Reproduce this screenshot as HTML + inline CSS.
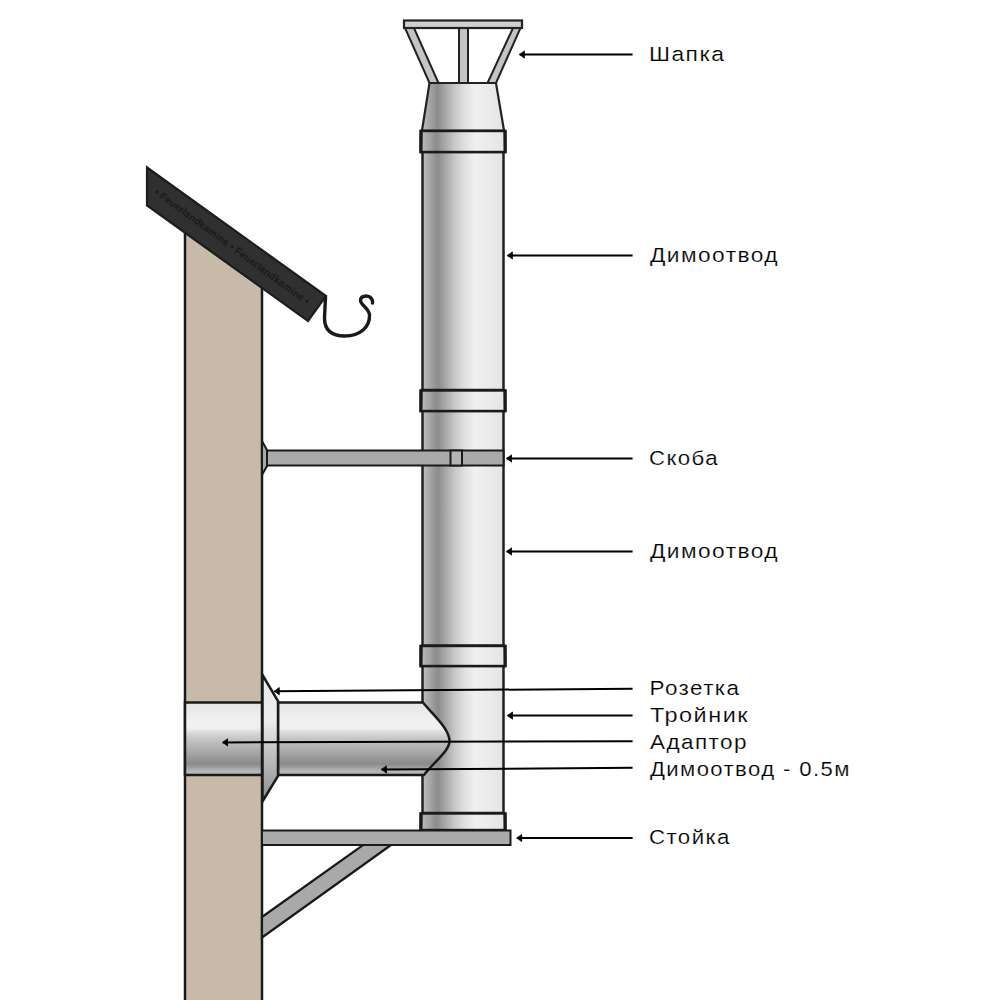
<!DOCTYPE html>
<html><head><meta charset="utf-8">
<style>
html,body{margin:0;padding:0;background:#fff;width:1000px;height:1000px;overflow:hidden}
svg{display:block}
.lbl{font-family:"Liberation Sans",sans-serif;font-size:20.5px;fill:#000;letter-spacing:1.3px;stroke:#fff;stroke-width:0.18px}
</style></head><body>
<svg width="1000" height="1000" viewBox="0 0 1000 1000">
<defs>
<linearGradient id="gh" x1="0" y1="0" x2="1" y2="0">
<stop offset="0" stop-color="#c0c0c0"/>
<stop offset="0.07" stop-color="#ababab"/>
<stop offset="0.19" stop-color="#8c8c8c"/>
<stop offset="0.28" stop-color="#a6a6a6"/>
<stop offset="0.40" stop-color="#c8c8c8"/>
<stop offset="0.52" stop-color="#e0e0e0"/>
<stop offset="0.65" stop-color="#f0f0f0"/>
<stop offset="1" stop-color="#e4e4e4"/>
</linearGradient>
<linearGradient id="gv" x1="0" y1="0" x2="0" y2="1">
<stop offset="0" stop-color="#e4e4e4"/>
<stop offset="0.2" stop-color="#efefef"/>
<stop offset="0.35" stop-color="#f0f0f0"/>
<stop offset="0.42" stop-color="#d8d8d8"/>
<stop offset="0.5" stop-color="#c6c6c6"/>
<stop offset="0.68" stop-color="#a8a8a8"/>
<stop offset="0.85" stop-color="#8a8a8a"/>
<stop offset="0.95" stop-color="#b8b8b8"/>
<stop offset="1" stop-color="#b0b0b0"/>
</linearGradient>
<linearGradient id="gr" x1="0" y1="0" x2="0" y2="1">
<stop offset="0" stop-color="#e8e8e8"/>
<stop offset="0.35" stop-color="#eeeeee"/>
<stop offset="0.6" stop-color="#c4c4c4"/>
<stop offset="1" stop-color="#8c8c8c"/>
</linearGradient>
<marker id="ah" viewBox="-1 -1 7.5 10" refX="0.3" refY="4" markerWidth="7.5" markerHeight="10" markerUnits="userSpaceOnUse" orient="auto">
<path d="M5.2,0.4 L0.3,4 L5.2,7.6 Z" fill="#000" stroke="#000" stroke-width="0.8" stroke-linejoin="round"/>
</marker>
</defs>

<!-- wall -->
<polygon points="185,225 262,280 262,1010 185,1010" fill="#c7baa9" stroke="#1a1a1a" stroke-width="2.5"/>

<!-- roof -->
<polygon points="147,167.5 326,296 308,321 147,205.5" fill="#303030" stroke="#1c1c1c" stroke-width="2.2" stroke-linejoin="miter"/>
<text transform="translate(153.7,193.4) rotate(36.2)" font-family="Liberation Sans,sans-serif" font-size="9.9" font-weight="bold" fill="#1a1a1a" letter-spacing="0.15">• Feuerlandkamine • Feuerlandkamine •</text>
<!-- hook -->
<path d="M325.5,297 L324.5,318 C324.5,331 333,336 345,336 C360,336 370,327 369.5,315 C369,308 360.5,305 360.5,300.5 C360.5,297 363.5,296 366.5,296 C370,296 373,299 372.5,303" fill="none" stroke="#1a1a1a" stroke-width="3.4" stroke-linecap="round"/>

<!-- skoba -->
<polygon points="262,441 267,450 267,466 262,475" fill="#a9a9a9" stroke="#1a1a1a" stroke-width="2"/>

<!-- cap -->
<polygon points="405,28 414,28 438.5,83 429.5,83" fill="#c4c4c4" stroke="#222" stroke-width="2"/>
<polygon points="513,28 520.5,28 496,83 487.5,83" fill="#c4c4c4" stroke="#222" stroke-width="2"/>
<rect x="459" y="28" width="9" height="55" fill="#c4c4c4" stroke="#222" stroke-width="2"/>
<rect x="404" y="20.5" width="118" height="7.5" fill="#cfcfcf" stroke="#222" stroke-width="2.2"/>
<polygon points="429.5,83 496,83 504,130.5 422,130.5" fill="url(#gh)" stroke="#222" stroke-width="2.2"/>

<!-- pipes -->
<rect x="422.5" y="152" width="81" height="238" fill="url(#gh)" stroke="#222" stroke-width="2.5"/>
<rect x="422.5" y="411" width="81" height="234.5" fill="url(#gh)" stroke="#222" stroke-width="2.5"/>
<rect x="422.5" y="666" width="81" height="147" fill="url(#gh)" stroke="#222" stroke-width="2.5"/>

<!-- bands -->
<rect x="420.5" y="131.0" width="85" height="21.0" fill="url(#gh)" stroke="#1a1a1a" stroke-width="2.4"/><line x1="421.3" y1="131.0" x2="421" y2="152.0" stroke="#1a1a1a" stroke-width="3" stroke-linecap="round"/><line x1="504.8" y1="131.0" x2="505" y2="152.0" stroke="#1a1a1a" stroke-width="3" stroke-linecap="round"/>
<rect x="420.5" y="390.5" width="85" height="20.5" fill="url(#gh)" stroke="#1a1a1a" stroke-width="2.4"/><line x1="421.3" y1="390.5" x2="421" y2="411.0" stroke="#1a1a1a" stroke-width="3" stroke-linecap="round"/><line x1="504.8" y1="390.5" x2="505" y2="411.0" stroke="#1a1a1a" stroke-width="3" stroke-linecap="round"/>
<rect x="420.5" y="646.0" width="85" height="20.0" fill="url(#gh)" stroke="#1a1a1a" stroke-width="2.4"/><line x1="421.3" y1="646.0" x2="421" y2="666.0" stroke="#1a1a1a" stroke-width="3" stroke-linecap="round"/><line x1="504.8" y1="646.0" x2="505" y2="666.0" stroke="#1a1a1a" stroke-width="3" stroke-linecap="round"/>
<rect x="420.5" y="813.5" width="85" height="16.5" fill="url(#gh)" stroke="#1a1a1a" stroke-width="2.4"/><line x1="421.3" y1="813.5" x2="421" y2="830.0" stroke="#1a1a1a" stroke-width="3" stroke-linecap="round"/><line x1="504.8" y1="813.5" x2="505" y2="830.0" stroke="#1a1a1a" stroke-width="3" stroke-linecap="round"/>

<!-- skoba on pipe -->
<rect x="267" y="450.5" width="236.5" height="15" fill="#aaaaaa" stroke="#1a1a1a" stroke-width="2"/>
<rect x="450.5" y="450.5" width="11.5" height="15" fill="#b5b5b5" stroke="#1a1a1a" stroke-width="2"/>

<!-- branch -->
<rect x="185" y="702.5" width="77" height="72.5" fill="url(#gv)" stroke="#1a1a1a" stroke-width="2.5"/>
<path d="M278,702.5 L423,702.5 C434,716 449.5,729 449.5,741 C449.5,751 434,762 424,775 L278,775 Z" fill="url(#gv)" stroke="#1a1a1a" stroke-width="2.5"/>
<polygon points="262.5,675 278,701 278,776 262.5,801.5" fill="url(#gr)" stroke="#1a1a1a" stroke-width="2.5"/>

<!-- stand -->
<polygon points="262,917 363,845 391,845 262,937.5" fill="#a9a9a9" stroke="#1a1a1a" stroke-width="2.2"/>
<rect x="262" y="830.5" width="248.5" height="14.5" fill="#ababab" stroke="#1a1a1a" stroke-width="2"/>

<!-- arrows -->
<g stroke="#000" stroke-width="2" marker-start="url(#ah)">
<line x1="519.5" y1="54.5" x2="632.6" y2="54.5"/>
<line x1="507.5" y1="255.5" x2="632.6" y2="255.5"/>
<line x1="506.6" y1="458.5" x2="632.6" y2="458.5"/>
<line x1="506.6" y1="551.5" x2="632.6" y2="551.5"/>
<line x1="274.4" y1="691.2" x2="632.6" y2="688.8"/>
<line x1="507.6" y1="715.6" x2="632.6" y2="715.6"/>
<line x1="222.7" y1="742.4" x2="632.6" y2="741.2"/>
<line x1="381.5" y1="769.5" x2="632.6" y2="767.8"/>
<line x1="516.8" y1="838" x2="632.6" y2="838"/>
</g>

<!-- labels -->
<text class="lbl" transform="translate(649.0,61) scale(1.1156,1)">Шапка</text>
<text class="lbl" transform="translate(650.0,262) scale(1.1088,1)">Димоотвод</text>
<text class="lbl" transform="translate(649.0,465) scale(1.0843,1)">Скоба</text>
<text class="lbl" transform="translate(650.0,558.4) scale(1.1088,1)">Димоотвод</text>
<text class="lbl" transform="translate(649.5,694.7) scale(1.0951,1)">Розетка</text>
<text class="lbl" transform="translate(650.0,722.3) scale(1.1455,1)">Тройник</text>
<text class="lbl" transform="translate(650.0,748.5) scale(1.0977,1)">Адаптор</text>
<text class="lbl" transform="translate(650.0,775.6) scale(1.0781,1)">Димоотвод - 0.5м</text>
<text class="lbl" transform="translate(649.0,844) scale(1.0864,1)">Стойка</text>
</svg>
</body></html>
